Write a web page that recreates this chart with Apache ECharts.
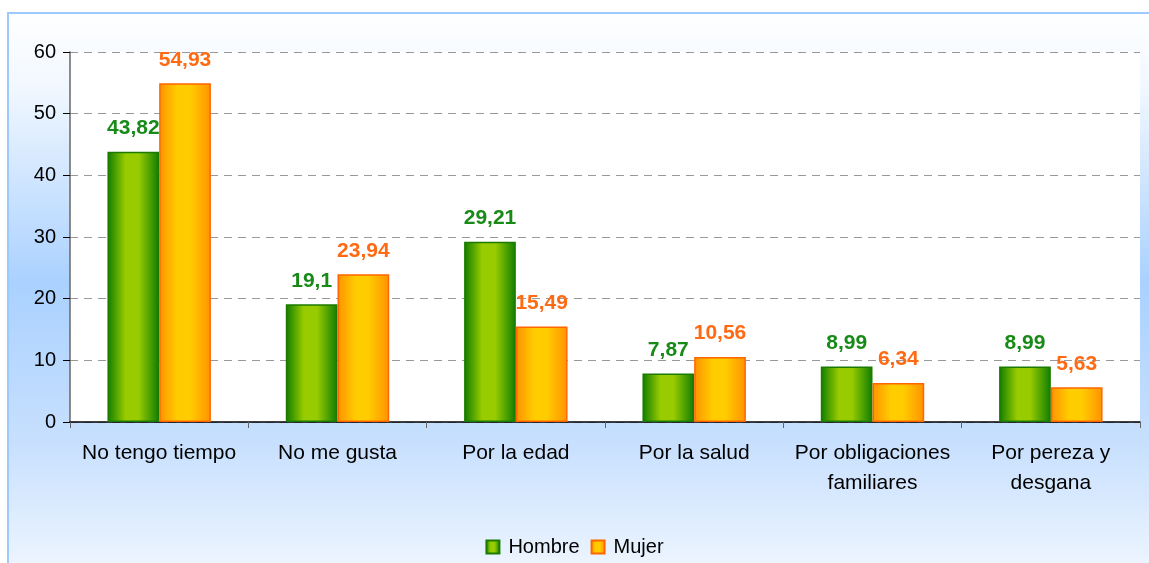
<!DOCTYPE html>
<html>
<head>
<meta charset="utf-8">
<script src="https://cdn.jsdelivr.net/npm/echarts@6/dist/echarts.min.js"></script>
<style>
  html, body { margin: 0; padding: 0; background: #fff; }
  #chart { width: 1149px; height: 563px; }
</style>
</head>
<body>
<div id="chart"></div>
<script>
// datos
var categorias = [
  "No tengo tiempo",
  "No me gusta",
  "Por la edad",
  "Por la salud",
  "Por obligaciones\nfamiliares",
  "Por pereza y\ndesgana"
];
var hombre = [43.82, 19.1, 29.21, 7.87, 8.99, 8.99];
var mujer = [54.93, 23.94, 15.49, 10.56, 6.34, 5.63];
var yTicks = { min: 0, max: 60, interval: 10 };

var fuente = "'Liberation Sans', Arial, sans-serif";

function grad(c1, c2) {
  return new echarts.graphic.LinearGradient(0, 0, 1, 0, [
    { offset: 0, color: c1 },
    { offset: 0.35, color: c2 },
    { offset: 0.6, color: c2 },
    { offset: 1, color: c1 }
  ]);
}
var verde = grad("#0f7d00", "#99cc00");
var naranja = grad("#ff9200", "#ffcc00");

function coma(p) {
  return String(p.value).replace(".", ",");
}

var myChart = echarts.init(document.getElementById("chart"));
var option = {
  backgroundColor: "#ffffff",
  animation: false,
  textStyle: { fontFamily: fuente },
  graphic: [
    {
      type: "rect",
      z: -10,
      silent: true,
      shape: { x: 8, y: 13, width: 1200, height: 600 },
      style: {
        stroke: "#9ccaff",
        lineWidth: 2,
        fill: new echarts.graphic.LinearGradient(0, 0, 0, 1, [
          { offset: 0, color: "#ffffff" },
          { offset: 0.12, color: "#f2f8ff" },
          { offset: 0.45, color: "#aad1ff" },
          { offset: 0.72, color: "#c8e0fe" },
          { offset: 1, color: "#fbfdff" }
        ])
      }
    }
  ],
  legend: {
    bottom: 1,
    left: "center",
    itemWidth: 13,
    itemHeight: 13,
    itemGap: 11,
    textStyle: { fontSize: 20, color: "#000", fontFamily: fuente, padding: [0, 0, 0, 4] },
    data: [
      { name: "Hombre", icon: "rect" },
      { name: "Mujer", icon: "rect" }
    ]
  },
  grid: {
    left: 70,
    right: 9,
    top: 52,
    bottom: 141,
    show: true,
    backgroundColor: "#ffffff",
    borderWidth: 0
  },
  xAxis: {
    type: "category",
    data: categorias,
    axisLine: { lineStyle: { color: "#000", width: 1.5 } },
    axisTick: { show: true, length: 6, lineStyle: { color: "#666" } },
    axisLabel: {
      fontSize: 21,
      color: "#000",
      lineHeight: 30,
      margin: 16,
      interval: 0,
      fontFamily: fuente
    }
  },
  yAxis: {
    type: "value",
    min: yTicks.min,
    max: yTicks.max,
    interval: yTicks.interval,
    axisLine: { show: true, lineStyle: { color: "#666", width: 1.5 } },
    axisTick: { show: true, length: 7, lineStyle: { color: "#000" } },
    axisLabel: { fontSize: 20, color: "#000", margin: 14, fontFamily: fuente },
    splitLine: {
      show: true,
      lineStyle: { color: "#999", type: [8, 6], width: 1 }
    }
  },
  series: [
    {
      name: "Hombre",
      type: "bar",
      data: hombre,
      barGap: "0%",
      barCategoryGap: "42%",
      itemStyle: { color: verde, borderColor: "#1d7a00", borderWidth: 1.5 },
      label: {
        show: true,
        position: "top",
        distance: 13,
        formatter: coma,
        color: "#178a17",
        fontSize: 21,
        fontWeight: "bold",
        fontFamily: fuente
      }
    },
    {
      name: "Mujer",
      type: "bar",
      data: mujer,
      itemStyle: { color: naranja, borderColor: "#ff6600", borderWidth: 1.5 },
      label: {
        show: true,
        position: "top",
        distance: 13,
        formatter: coma,
        color: "#ff6a13",
        fontSize: 21,
        fontWeight: "bold",
        fontFamily: fuente
      }
    }
  ]
};
myChart.setOption(option, true);
</script>
</body>
</html>
